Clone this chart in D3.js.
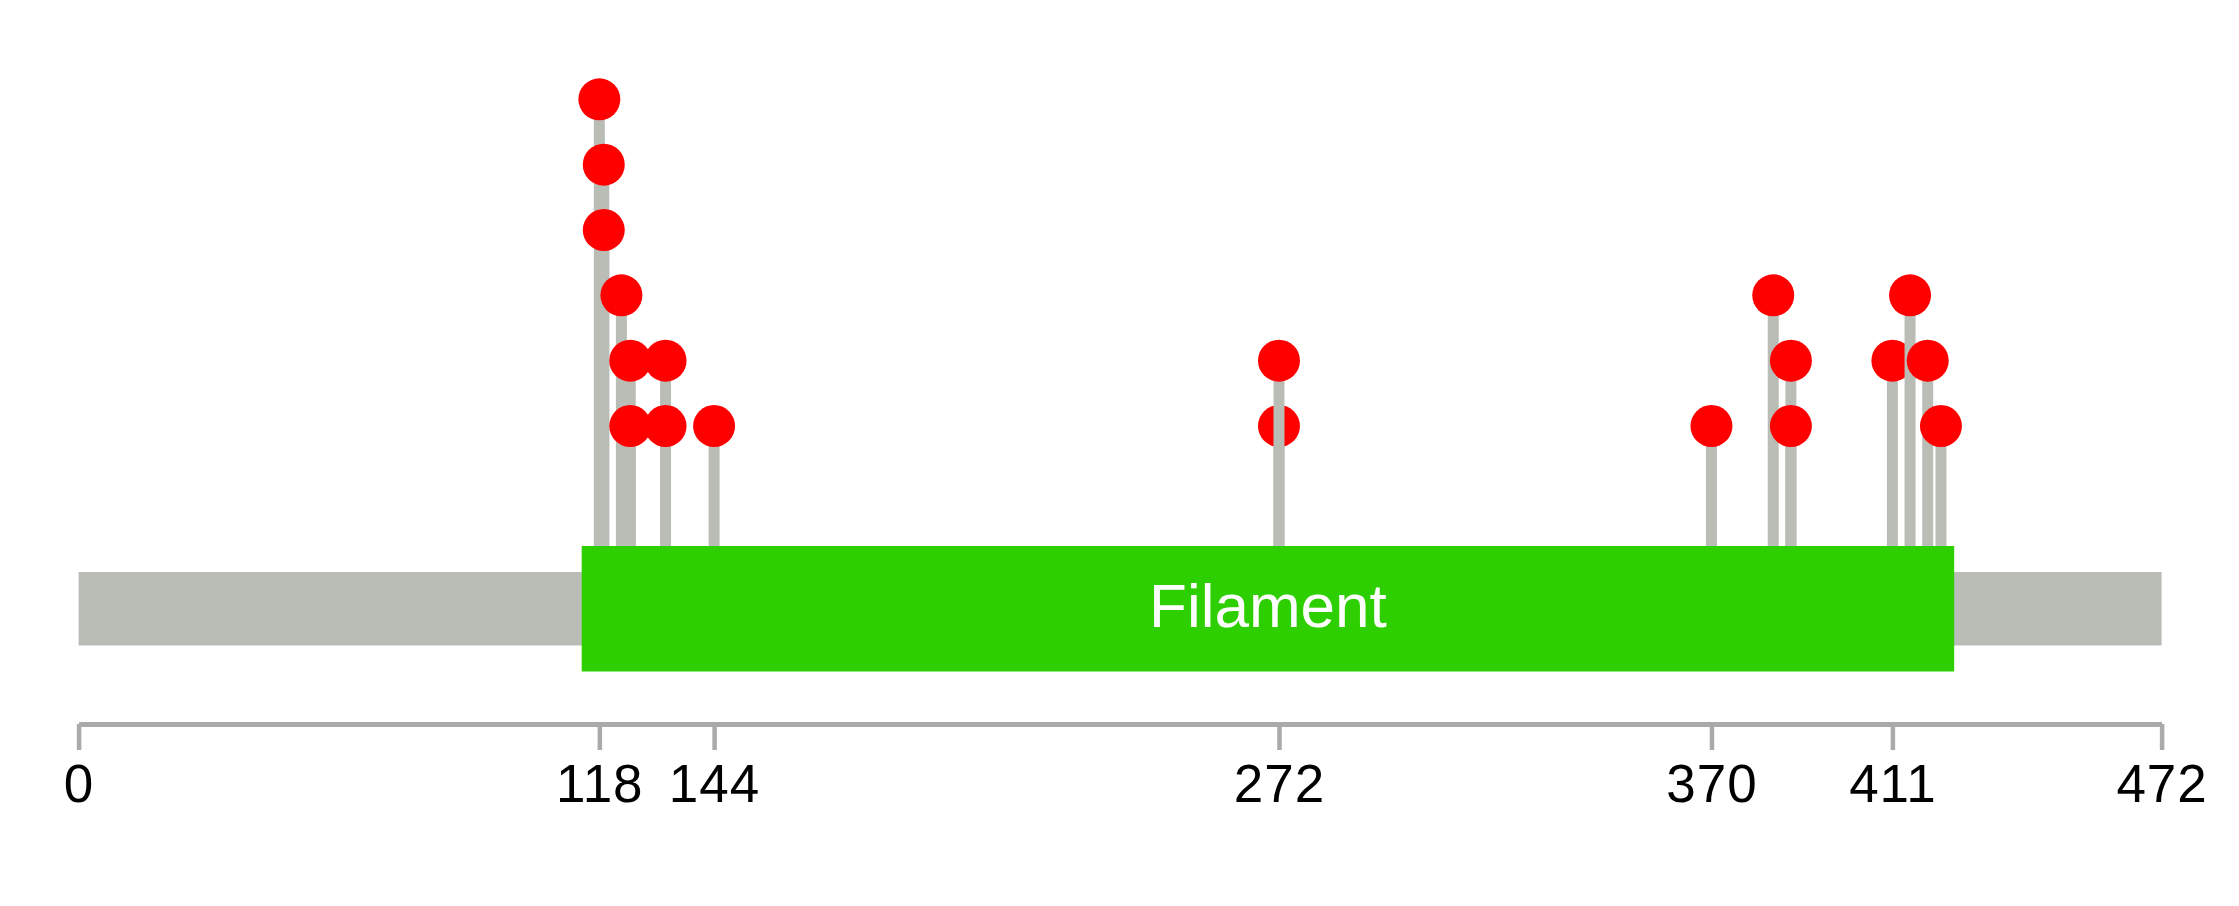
<!DOCTYPE html>
<html lang="en">
<head>
    <meta charset="UTF-8">
    <title>Lollipop</title>
    <script src="https://d3js.org/d3.v7.min.js"></script>
    <style>
        body {
            margin: 0;
            background: #fff;
            font-family: "Liberation Sans", Arial, sans-serif;
        }
    </style>
</head>
<body>
    <div id="chart"></div>

    <script>
        // protein + domain
        const proteinLength = 472;
        const domainNames = ["Filament"];
        const domainStarts = [114];
        const domainEnds = [425];

        // mutations (drawing order kept as in source)
        const mutPositions = [118, 119, 119, 123, 125, 125, 133, 133, 144, 272, 272, 370, 384, 388, 388, 411, 415, 419, 422];
        const mutCounts    = [6,   5,   4,   3,   2,   1,   2,   1,   1,   1,   2,   1,   3,   2,   1,   2,   3,   2,   1];

        const tickLabels = [0, 118, 144, 272, 370, 411, 472];

        const width = 2239, height = 906;

        const svg = d3.select("#chart").append("svg")
            .attr("width", width)
            .attr("height", height)
            .style("display", "block");

        const x = d3.scaleLinear()
            .domain([0, proteinLength])
            .range([78.6, 2161.6]);

        const y = d3.scaleLinear()
            .domain([1, 6])
            .range([426, 99.3]);

        const backboneTop = 572, backboneBottom = 645.5;
        const domainTop = 546, domainBottom = 671.5;

        // backbone
        svg.append("rect")
            .attr("x", x(0))
            .attr("y", backboneTop)
            .attr("width", x(proteinLength) - x(0))
            .attr("height", backboneBottom - backboneTop)
            .attr("fill", "#babdb6");

        // stems + heads, one after another
        const lolli = svg.append("g");
        mutPositions.forEach((p, i) => {
            lolli.append("line")
                .attr("x1", x(p)).attr("x2", x(p))
                .attr("y1", domainTop)
                .attr("y2", y(mutCounts[i]))
                .attr("stroke", "#babdb6")
                .attr("stroke-width", 11);
            lolli.append("circle")
                .attr("cx", x(p))
                .attr("cy", y(mutCounts[i]))
                .attr("r", 21)
                .attr("fill", "#ff0000");
        });

        // domains
        domainNames.forEach((name, i) => {
            svg.append("rect")
                .attr("x", x(domainStarts[i]))
                .attr("y", domainTop)
                .attr("width", x(domainEnds[i]) - x(domainStarts[i]))
                .attr("height", domainBottom - domainTop)
                .attr("fill", "#2dcf00");
            svg.append("text")
                .attr("x", (x(domainStarts[i]) + x(domainEnds[i])) / 2)
                .attr("y", 627)
                .attr("text-anchor", "middle")
                .attr("fill", "#fff")
                .style("font-size", "62px")
                .text(name);
        });

        // axis
        const axis = d3.axisBottom(x)
            .tickValues(tickLabels)
            .tickSize(26)
            .tickSizeOuter(0)
            .tickFormat(d3.format("d"));

        const gAxis = svg.append("g")
            .attr("transform", "translate(0,724)")
            .call(axis);

        gAxis.select(".domain")
            .attr("stroke", "#aaaaaa")
            .attr("stroke-width", 5);
        gAxis.selectAll(".tick line")
            .attr("stroke", "#aaaaaa")
            .attr("stroke-width", 4.5);
        gAxis.selectAll(".tick text")
            .attr("y", 78)
            .attr("dy", null)
            .attr("fill", "#000")
            .style("font-family", "'Liberation Sans', Arial, sans-serif")
            .style("font-size", "53px")
            .style("letter-spacing", "1px");
    </script>
</body>
</html>
